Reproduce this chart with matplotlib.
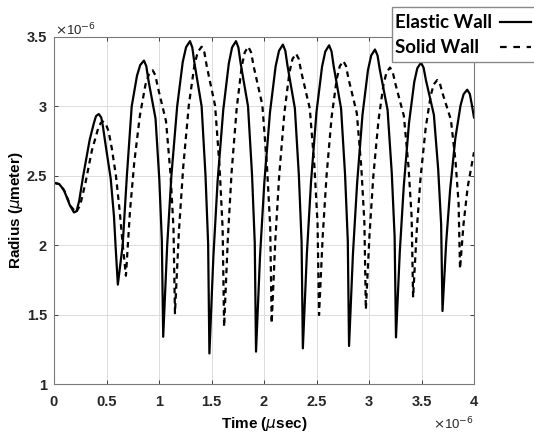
import matplotlib
matplotlib.use("Agg")
import matplotlib.pyplot as plt
from matplotlib.lines import Line2D
from matplotlib.patches import Rectangle

# Time in microseconds (axis shows x10^-6), radius in micrometers
t_elastic = [0.0, 0.05, 0.093, 0.15, 0.19, 0.215, 0.24, 0.278, 0.34, 0.38, 0.40, 0.426,
             0.45, 0.465, 0.494, 0.54, 0.571, 0.586, 0.608,
             0.654, 0.694, 0.74, 0.79, 0.821, 0.857,
             0.879, 0.899, 0.967, 1.003, 1.027, 1.04,
             1.078, 1.119, 1.173, 1.226, 1.258, 1.295,
             1.317, 1.338, 1.406, 1.443, 1.468, 1.48,
             1.518, 1.558, 1.612, 1.665, 1.696, 1.733,
             1.756, 1.777, 1.848, 1.886, 1.912, 1.924,
             1.962, 2.003, 2.057, 2.111, 2.143, 2.18,
             2.203, 2.224, 2.294, 2.332, 2.358, 2.37,
             2.408, 2.448, 2.5, 2.553, 2.584, 2.62,
             2.643, 2.664, 2.734, 2.772, 2.798, 2.81,
             2.847, 2.887, 2.938, 2.99, 3.021, 3.057,
             3.081, 3.103, 3.177, 3.217, 3.244, 3.257,
             3.293, 3.331, 3.381, 3.431, 3.46, 3.495,
             3.52, 3.542, 3.618, 3.659, 3.687, 3.70,
             3.735, 3.773, 3.822, 3.872, 3.901, 3.935,
             3.96, 3.98, 4.0]
r_elastic = [2.45, 2.44, 2.40, 2.29, 2.236, 2.245, 2.32, 2.5, 2.76, 2.88, 2.93, 2.945,
             2.92, 2.86, 2.71, 2.48, 2.21, 2.0, 1.716,
             2.0, 2.5, 3.0, 3.22, 3.298, 3.33,
             3.29, 3.19, 2.912, 2.474, 2.036, 1.34,
             2.0, 2.51, 3.0, 3.32, 3.427, 3.47,
             3.425, 3.31, 3.0, 2.50, 2.01, 1.22,
             1.92, 2.46, 2.975, 3.31, 3.425, 3.47,
             3.425, 3.313, 3.0, 2.508, 2.016, 1.233,
             1.919, 2.45, 2.958, 3.29, 3.401, 3.445,
             3.401, 3.292, 2.986, 2.504, 2.023, 1.257,
             1.934, 2.457, 2.96, 3.287, 3.396, 3.44,
             3.397, 3.288, 2.985, 2.509, 2.032, 1.274,
             1.936, 2.449, 2.94, 3.261, 3.367, 3.41,
             3.368, 3.265, 2.974, 2.518, 2.062, 1.336,
             1.949, 2.424, 2.88, 3.176, 3.275, 3.315,
             3.279, 3.19, 2.939, 2.546, 2.152, 1.526,
             2.02, 2.403, 2.769, 3.008, 3.088, 3.12,
             3.09, 3.01, 2.92]

t_solid = [0.0, 0.05, 0.1, 0.16, 0.21, 0.25, 0.3, 0.36, 0.42, 0.445, 0.47,
           0.495, 0.52, 0.55, 0.59, 0.625, 0.655, 0.685,
           0.723, 0.764, 0.818, 0.871, 0.903, 0.94,
           0.965, 0.989, 1.067, 1.11, 1.138, 1.152,
           1.19, 1.231, 1.284, 1.337, 1.369, 1.406,
           1.432, 1.455, 1.534, 1.577, 1.606, 1.62,
           1.655, 1.691, 1.74, 1.788, 1.817, 1.85,
           1.877, 1.901, 1.984, 2.028, 2.059, 2.073,
           2.108, 2.145, 2.194, 2.242, 2.271, 2.305,
           2.331, 2.355, 2.436, 2.48, 2.51, 2.524,
           2.559, 2.596, 2.644, 2.693, 2.722, 2.755,
           2.781, 2.804, 2.884, 2.927, 2.956, 2.97,
           3.005, 3.041, 3.09, 3.138, 3.167, 3.2,
           3.226, 3.251, 3.332, 3.376, 3.406, 3.42,
           3.455, 3.491, 3.54, 3.588, 3.617, 3.65,
           3.676, 3.7, 3.78, 3.824, 3.853, 3.867,
           3.9, 3.94, 4.0]
r_solid = [2.45, 2.44, 2.39, 2.28, 2.235, 2.29, 2.45, 2.68, 2.84, 2.88, 2.89,
           2.87, 2.82, 2.70, 2.50, 2.25, 2.0, 1.78,
           2.239, 2.594, 2.934, 3.156, 3.23, 3.26,
           3.225, 3.138, 2.893, 2.508, 2.123, 1.51,
           2.105, 2.566, 3.008, 3.296, 3.392, 3.43,
           3.39, 3.289, 3.006, 2.563, 2.119, 1.413,
           2.038, 2.522, 2.986, 3.289, 3.39, 3.43,
           3.39, 3.29, 3.011, 2.573, 2.135, 1.437,
           2.039, 2.506, 2.953, 3.244, 3.341, 3.38,
           3.342, 3.248, 2.985, 2.57, 2.156, 1.497,
           2.064, 2.504, 2.924, 3.199, 3.29, 3.327,
           3.291, 3.202, 2.951, 2.558, 2.164, 1.538,
           2.078, 2.496, 2.897, 3.158, 3.245, 3.28,
           3.247, 3.164, 2.932, 2.568, 2.204, 1.625,
           2.11, 2.486, 2.846, 3.08, 3.159, 3.19,
           3.163, 3.095, 2.904, 2.605, 2.306, 1.83,
           2.15, 2.42, 2.67]

x_ticks = [0, 0.5, 1, 1.5, 2, 2.5, 3, 3.5, 4]
x_ticklabels = ["0", "0.5", "1", "1.5", "2", "2.5", "3", "3.5", "4"]
y_ticks = [1, 1.5, 2, 2.5, 3, 3.5]
y_ticklabels = ["1", "1.5", "2", "2.5", "3", "3.5"]
series_names = ["Elastic Wall", "Solid Wall"]

plt.rcParams['font.family'] = ['Liberation Sans', 'DejaVu Sans']

W, H = 534.0, 432.0
fig = plt.figure(figsize=(5.34, 4.32), dpi=100)
ax = fig.add_axes([54/W, 1-384/H, 420/W, 347/H])

dash = (0, (2.5, 2.0))
ax.plot(t_elastic, r_elastic, color='black', lw=1.6, solid_joinstyle='round')
ax.plot(t_solid, r_solid, color='black', lw=1.6, linestyle=dash)

ax.set_xlim(0, 4)
ax.set_ylim(1, 3.5)
ax.set_xticks(x_ticks)
ax.set_xticklabels(x_ticklabels, fontsize=10.5, fontweight='bold')
ax.set_yticks(y_ticks)
ax.set_yticklabels(y_ticklabels, fontsize=10.5, fontweight='bold')
ax.tick_params(direction='in', length=3, width=0.6, top=True, right=True,
               colors='#262626')
ax.tick_params(axis='x', pad=8)
ax.tick_params(axis='y', pad=5)
ax.grid(True, color='#dcdcdc', lw=0.7)
ax.set_axisbelow(True)
for s in ax.spines.values():
    s.set_color('#7a7a7a')
    s.set_linewidth(0.8)

ax.set_xlabel("Time ($\\mu$sec)", fontsize=11, fontweight='bold', labelpad=4)
ax.set_ylabel("Radius ($\\mu$meter)", fontsize=11, fontweight='bold', labelpad=1)

fig.text(55/W, 1-35/H, "$\\times$10$^{-6}$", fontsize=9.5, ha='left', va='baseline',
         color='#262626')
fig.text(474/W, 1-429/H, "$\\times$10$^{-6}$", fontsize=9.5, ha='right', va='baseline',
         color='#262626')

# legend box (text first, line sample on the right, partly outside the figure)
fig.add_artist(Rectangle((392/W, 1-62/H), 150/W, 55/H, transform=fig.transFigure,
                         facecolor='white', edgecolor='#8a8a8a', lw=1.0, zorder=5))
fig.text(395/W, 1-28/H, series_names[0], fontsize=13.5, fontweight='bold', family='Lato',
         ha='left', va='baseline', zorder=6)
fig.text(395/W, 1-53/H, series_names[1], fontsize=13.5, fontweight='bold', family='Lato',
         ha='left', va='baseline', zorder=6)
fig.add_artist(Line2D([500/W, 531/W], [1-22/H, 1-22/H], transform=fig.transFigure,
                      color='black', lw=1.6, zorder=6))
fig.add_artist(Line2D([500/W, 531/W], [1-47/H, 1-47/H], transform=fig.transFigure,
                      color='black', lw=1.6, linestyle=(0, (3, 3)), zorder=6))

fig.savefig("out.png", dpi=100)
